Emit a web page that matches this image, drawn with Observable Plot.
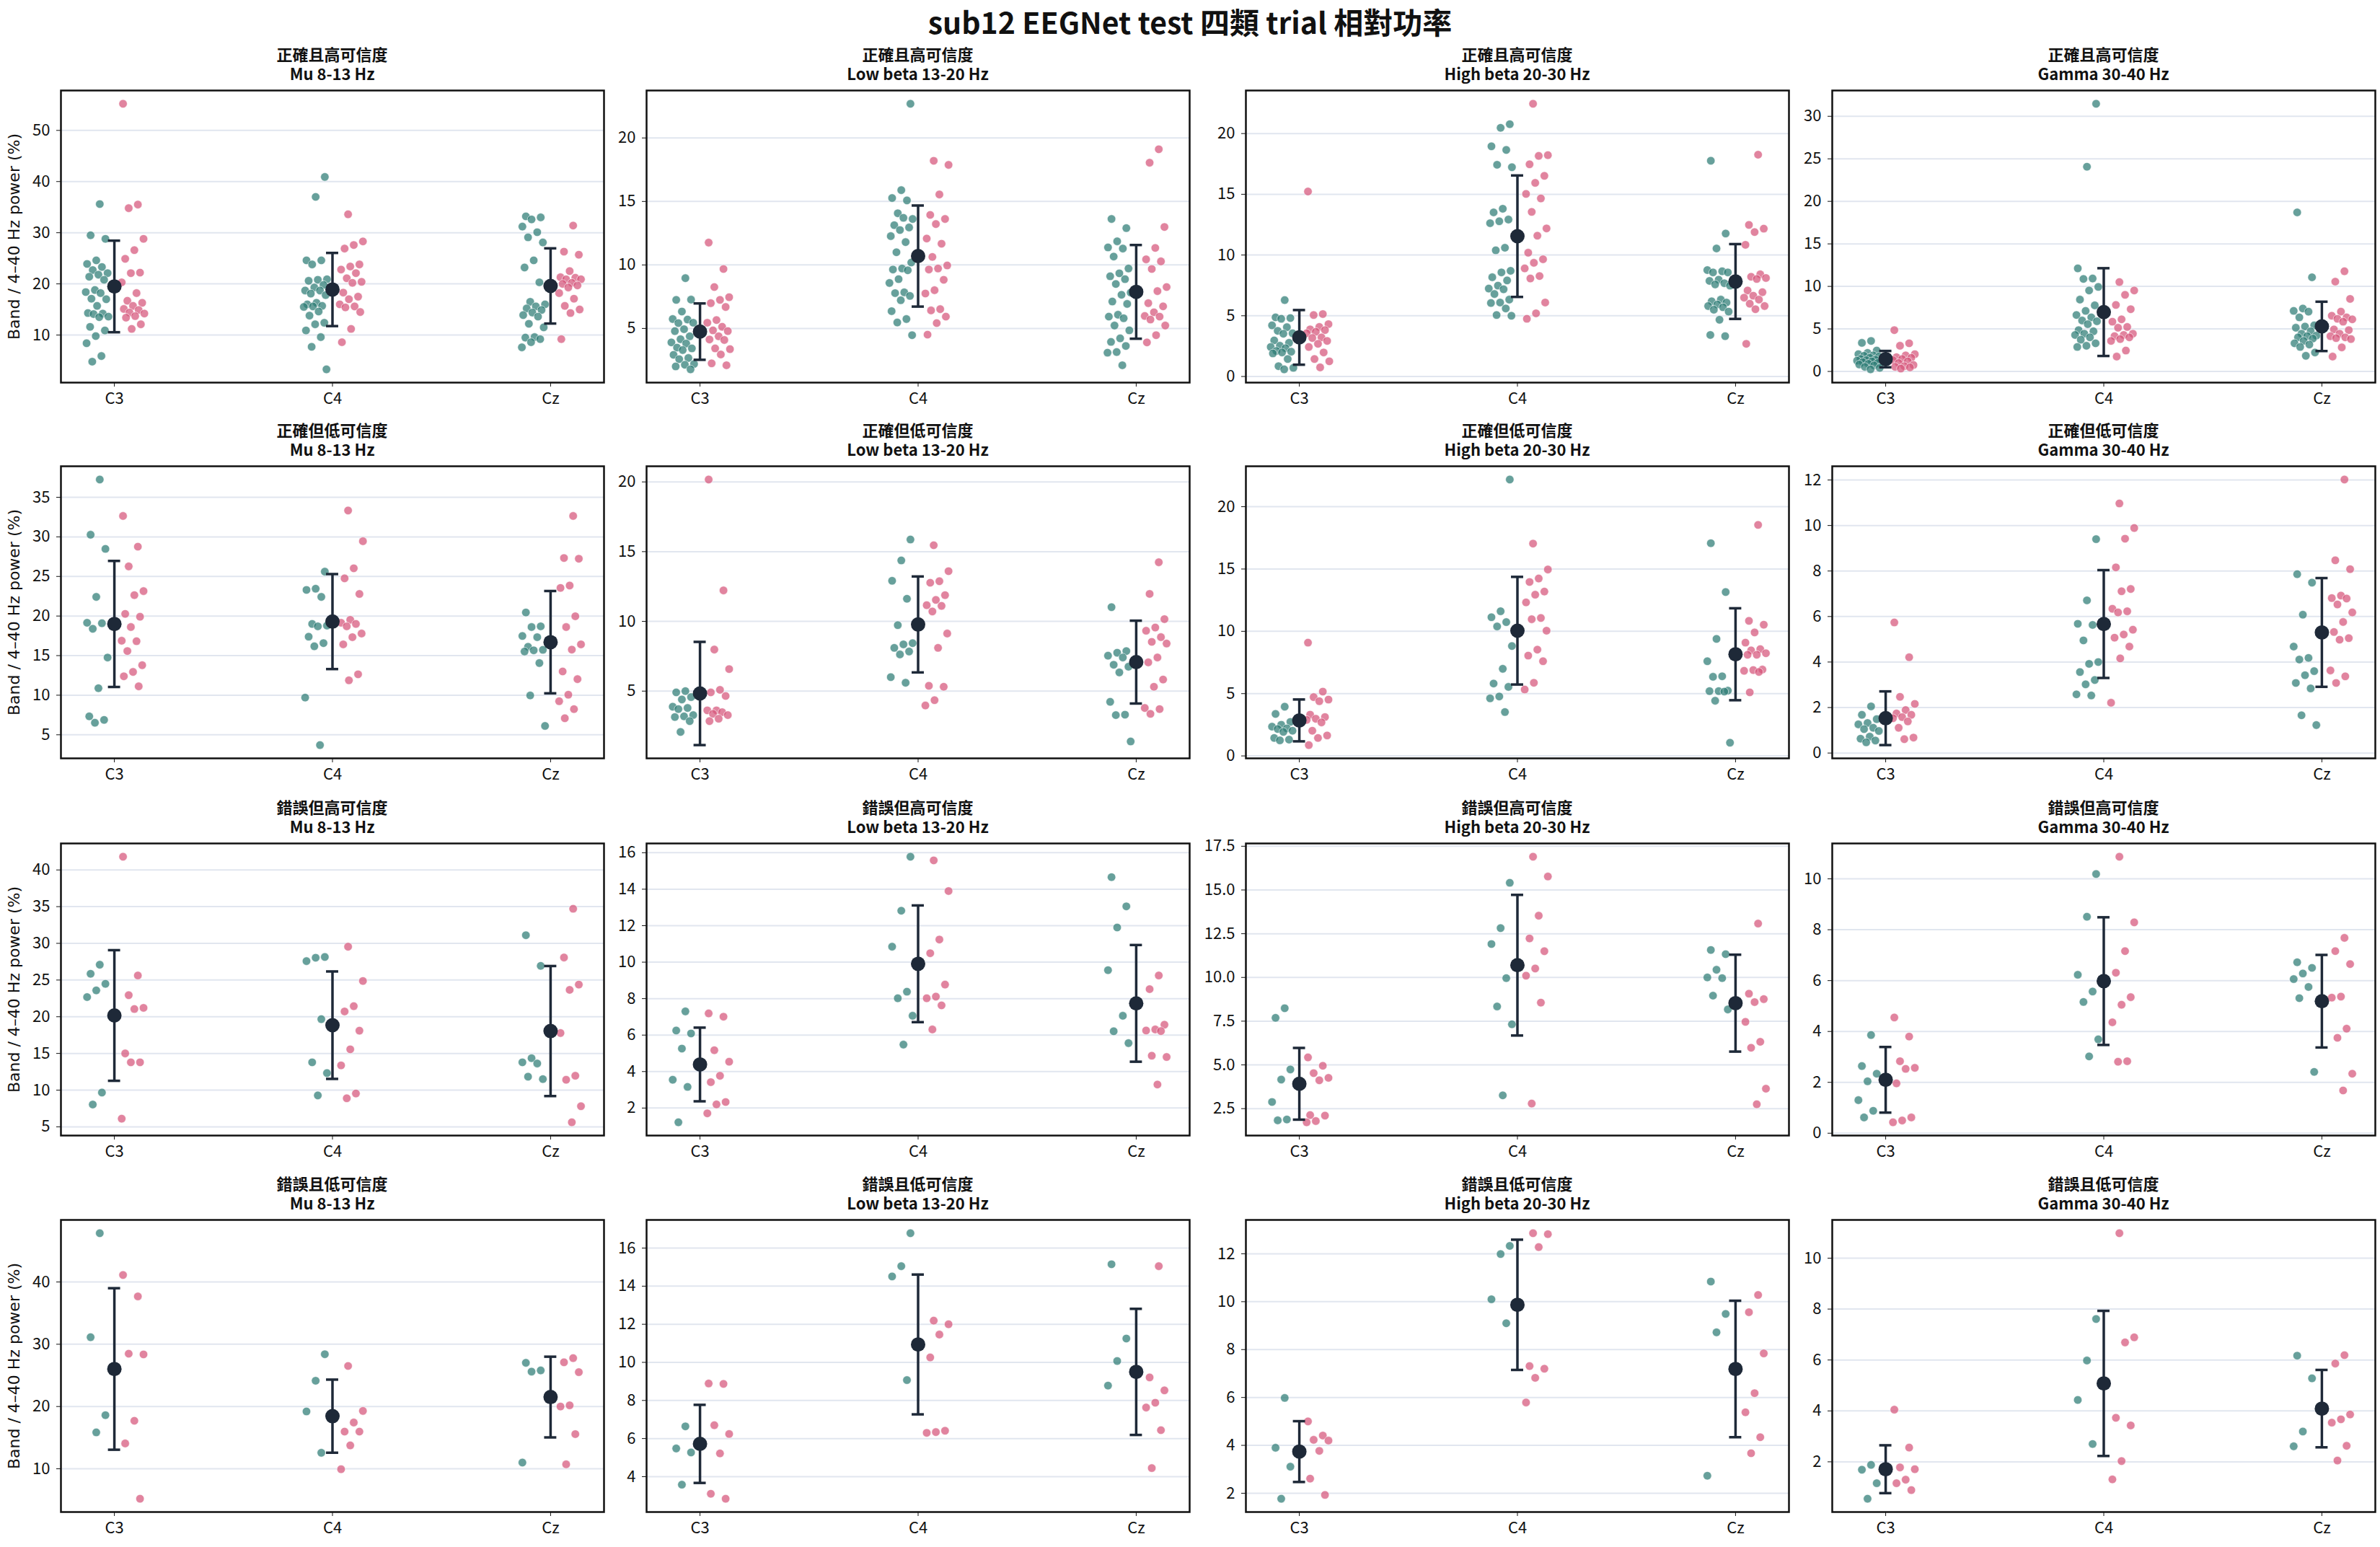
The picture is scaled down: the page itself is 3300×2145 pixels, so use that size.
<!DOCTYPE html>
<html><head><meta charset="utf-8">
<script src="https://cdn.jsdelivr.net/npm/d3@7"></script>
<script src="https://cdn.jsdelivr.net/npm/@observablehq/plot@0.6"></script>
<style>
body{margin:0;background:#fff;}
#root{position:relative;width:3300px;height:2145px;background:#fff;overflow:hidden;font-family:'Noto Sans CJK TC','Noto Sans',sans-serif;color:#111;}
.ptitle{position:absolute;text-align:center;font-size:22px;font-weight:700;line-height:27px;white-space:nowrap;}
.maintitle{position:absolute;left:0;top:5px;width:3300px;text-align:center;font-size:41px;font-weight:700;line-height:48px;}
.ylab{position:absolute;font-family:'DejaVu Sans',sans-serif;font-size:22px;white-space:nowrap;transform:translate(-50%,-50%) rotate(-90deg);color:#111;}
</style>
</head><body><div id="root"></div>
<script>
const mainTitle = "sub12 EEGNet test 四類 trial 相對功率";
const conditions = ["正確且高可信度","正確但低可信度","錯誤但高可信度","錯誤且低可信度"];
const bands = ["Mu 8-13 Hz","Low beta 13-20 Hz","High beta 20-30 Hz","Gamma 30-40 Hz"];
const channels = ["C3","C4","Cz"];
const yLabel = "Band / 4–40 Hz power (%)";

// ---- Row 1: 正確且高可信度 ----
const mu1Teal = [[35.6,29.5,28.8,24.6,23.9,23.3,22.7,22.1,21.8,21.4,20.8,18.8,18.4,18.2,17.1,17.0,15.7,14.3,14.2,14.1,13.6,13.5,11.6,10.9,9.8,8.4,5.9,4.8],
  [40.9,37.0,24.6,24.6,23.8,20.9,20.8,20.6,19.8,19.3,18.7,18.7,18.1,17.8,16.3,16.0,15.7,15.6,15.5,14.6,13.8,12.4,12.1,10.9,9.6,7.7,3.3],
  [33.2,33.0,32.6,31.2,30.1,29.1,28.1,24.6,23.2,20.3,16.5,16.0,15.6,15.2,14.9,14.4,13.9,13.6,12.2,11.5,9.6,9.5,9.2,8.6,7.6]];
const mu1Pink = [[55.2,35.5,34.8,28.8,26.6,24.9,22.2,22.1,20.3,18.2,16.7,16.3,15.7,15.1,14.9,14.4,14.2,13.7,13.4,12.1,11.2],
  [33.6,28.3,27.6,26.9,23.8,23.4,22.8,22.1,21.1,20.4,20.2,18.3,17.5,17.0,16.0,15.6,15.4,14.5,11.2,8.6],
  [31.4,26.3,25.7,22.5,21.3,21.2,20.9,20.9,20.2,20.0,19.7,19.3,18.2,17.1,15.7,15.0,14.3,9.2]];
const mu1Mean = [19.5,18.9,19.6];
const mu1Sd = [8.95,7.15,7.35];
const mu1Ticks = [10,20,30,40,50];

const lb1Teal = [[8.96,7.25,7.27,6.33,5.74,5.70,5.42,5.45,4.94,4.79,4.38,4.15,3.90,3.81,3.49,3.43,3.30,2.92,2.67,2.58,2.20,2.14,2.01,1.78],
  [22.69,15.89,15.27,15.08,14.07,13.62,13.71,13.13,12.95,12.75,12.27,11.80,11.0,10.19,9.72,9.64,9.58,8.88,8.58,7.84,7.78,7.56,7.22,6.36,5.74,5.47,4.47],
  [13.62,12.90,11.86,11.38,11.29,10.66,9.72,9.34,9.11,8.88,8.50,7.82,7.65,7.12,6.93,6.08,5.93,5.80,5.23,4.85,4.22,3.94,3.62,3.14,3.09,2.10]];
const lb1Pink = [[11.76,9.68,8.26,7.46,7.25,6.99,6.69,5.66,5.45,5.13,4.85,4.79,4.38,4.13,4.09,3.43,3.37,2.95,2.25,2.10],
  [18.2,17.88,15.55,13.94,13.62,13.22,12.08,11.67,10.63,9.96,9.72,9.64,8.83,8.01,7.75,6.52,6.42,5.93,5.42,4.51],
  [19.11,18.05,12.99,11.34,10.44,10.28,9.68,8.26,7.94,6.99,6.74,6.27,5.98,5.93,5.70,5.23,4.47,3.90]];
const lb1Mean = [4.75,10.7,7.88];
const lb1Sd = [2.22,3.98,3.69];
const lb1Ticks = [5,10,15,20];

const hb1Teal = [[6.29,4.87,4.81,4.75,4.21,4.06,3.76,3.56,3.52,2.97,2.77,2.53,2.43,2.33,2.10,2.04,1.98,1.90,1.44,0.85,0.71,0.59],
  [20.77,20.47,18.95,18.65,17.43,17.23,13.81,13.51,12.92,12.78,12.62,10.60,10.39,8.70,8.57,8.17,7.91,7.48,7.24,7.18,6.79,6.33,6.09,6.05,5.60,5.06,5.0],
  [17.76,11.77,10.54,8.76,8.66,8.57,8.57,7.97,7.87,7.68,7.58,7.48,6.33,6.19,6.09,5.93,5.80,5.70,5.50,5.34,4.67,3.42,3.32]];
const hb1Pink = [[15.23,5.14,5.06,4.31,4.08,3.88,3.82,3.68,3.56,3.22,3.17,2.93,2.69,2.43,1.98,1.44,1.25,0.75],
  [22.45,18.22,18.16,17.47,16.52,15.94,15.03,14.66,13.55,12.19,11.59,10.19,9.65,9.36,8.90,8.27,8.07,6.09,5.20,4.75],
  [18.26,12.48,12.17,11.89,10.84,8.41,8.21,8.11,8.03,7.08,6.94,6.65,6.49,6.33,5.99,5.80,5.54,2.69]];
const hb1Mean = [3.22,11.55,7.82];
const hb1Sd = [2.25,5.0,3.08];
const hb1Ticks = [0,5,10,15,20];

const ga1Teal = [[3.59,3.36,2.46,2.18,2.03,1.89,1.84,1.75,1.61,1.47,1.38,1.33,1.27,1.19,1.10,0.99,0.90,0.82,0.71,0.54,0.42,0.25],
  [31.47,24.07,12.12,10.93,10.88,9.94,9.52,8.45,7.77,7.12,6.64,6.36,5.99,5.90,5.56,4.86,4.72,4.44,4.29,4.01,3.73,3.31,3.02,2.88],
  [18.70,11.07,7.40,7.12,7.03,6.36,5.42,5.28,5.14,4.72,4.44,4.21,4.15,4.01,3.87,3.59,3.31,3.16,2.88,2.23,1.84]];
const ga1Pink = [[4.86,3.31,3.02,2.03,1.89,1.67,1.61,1.47,1.33,1.19,0.99,0.76,0.62,0.54,0.48,0.34],
  [10.51,9.52,9.01,7.82,7.32,6.13,5.85,5.23,5.14,4.44,4.29,4.15,4.01,3.81,3.59,2.46,1.75],
  [11.78,10.56,8.53,7.03,6.55,6.36,6.19,6.13,5.85,4.94,4.86,4.44,4.15,4.01,3.92,3.81,2.83,1.75]];
const ga1Mean = [1.45,6.98,5.3];
const ga1Sd = [0.96,5.16,2.90];
const ga1Ticks = [0,5,10,15,20,25,30];

// ---- Row 2: 正確但低可信度 ----
const mu2Teal = [[37.24,30.27,28.48,22.42,19.15,19.09,18.39,14.76,10.88,7.33,6.88,6.52],
  [25.61,23.45,23.30,22.42,19.0,18.79,18.70,17.39,16.58,16.18,9.70,3.70],
  [20.45,18.70,18.61,17.48,17.33,16.12,15.73,15.67,15.52,14.06,9.97,6.12]];
const mu2Pink = [[32.64,28.76,26.27,23.15,22.64,20.27,19.91,18.61,16.88,16.82,15.58,13.79,12.94,12.39,11.12],
  [33.33,29.45,26.03,24.76,22.79,19.52,19.15,19.0,18.70,17.79,17.33,16.42,12.64,11.88],
  [32.64,27.33,27.24,23.85,23.55,19.97,18.61,16.42,15.76,13.0,12.03,10.06,9.24,8.24,7.09]];
const mu2Mean = [19.0,19.3,16.7];
const mu2Sd = [7.96,6.0,6.46];
const mu2Ticks = [5,10,15,20,25,30,35];

const lb2Teal = [[5.0,4.91,4.57,4.40,3.88,3.79,3.71,3.28,3.19,3.14,2.85,2.07],
  [15.87,14.37,12.91,11.62,9.73,8.44,8.35,8.10,7.84,7.63,6.0,5.60],
  [11.02,7.87,7.75,7.54,7.41,6.89,6.75,6.34,4.23,3.31,3.28,1.39]];
const lb2Pink = [[20.17,12.22,7.98,6.58,5.09,4.91,4.65,3.62,3.62,3.49,3.37,3.28,3.02,2.85],
  [15.46,13.60,12.88,12.77,11.88,11.54,11.16,11.11,10.71,9.13,8.10,5.38,5.31,4.35,3.97],
  [14.24,11.97,10.16,9.56,9.33,8.87,8.53,8.41,7.41,7.06,5.83,5.31,3.79,3.71,3.37]];
const lb2Mean = [4.83,9.78,7.08];
const lb2Sd = [3.70,3.44,2.97];
const lb2Ticks = [5,10,15,20];

const hb2Teal = [[3.95,3.37,2.73,2.50,2.35,2.21,2.16,2.02,1.93,1.44,1.31,1.25],
  [22.18,11.61,11.13,10.74,10.39,8.82,6.99,5.81,5.54,4.77,4.62,3.52],
  [17.07,13.15,9.39,7.60,6.39,6.35,5.24,5.20,5.20,5.16,4.43,1.06]];
const hb2Pink = [[9.09,5.16,4.72,4.52,4.39,3.31,3.12,2.98,2.89,2.69,2.02,1.64,1.44,0.87],
  [17.04,14.96,14.24,13.96,13.19,12.94,12.32,11.07,10.97,10.05,8.53,8.05,7.60,5.87,5.33],
  [18.54,10.84,10.53,9.91,9.09,8.57,8.47,8.24,8.12,8.12,6.93,6.89,6.83,6.74,5.10]];
const hb2Mean = [2.85,10.05,8.16];
const hb2Sd = [1.68,4.32,3.69];
const hb2Ticks = [0,5,10,15,20];

const ga2Teal = [[2.05,1.68,1.49,1.32,1.26,1.11,1.05,0.97,0.72,0.63,0.55,0.47],
  [9.40,6.71,5.68,5.63,4.95,4.0,3.92,3.56,3.21,3.02,2.58,2.53],
  [7.86,7.49,6.08,4.68,4.18,4.11,3.60,3.42,3.08,2.84,1.66,1.23]];
const ga2Pink = [[5.74,4.21,2.47,2.16,1.89,1.74,1.68,1.58,1.53,1.39,1.11,0.68,0.61],
  [10.97,9.89,9.42,8.16,7.21,7.11,6.34,6.23,6.18,5.42,5.21,5.07,4.68,4.16,2.21],
  [12.02,8.47,8.08,6.92,6.81,6.79,6.53,6.18,5.76,5.32,5.05,4.98,3.63,3.37,3.08]];
const ga2Mean = [1.53,5.67,5.3];
const ga2Sd = [1.18,2.37,2.39];
const ga2Ticks = [0,2,4,6,8,10,12];

// ---- Row 3: 錯誤但高可信度 ----
const mu3Teal = [[27.09,25.85,24.48,23.59,22.68,9.67,8.04],
  [28.14,28.04,27.58,19.67,13.79,12.32,9.28],
  [31.11,26.93,14.35,13.79,13.63,11.83,11.50]];
const mu3Pink = [[41.80,25.62,22.94,21.21,21.05,15.0,13.79,13.79,6.11],
  [29.54,24.87,21.44,20.72,18.10,15.56,13.37,9.54,8.89],
  [34.71,28.07,24.38,23.66,17.78,11.96,11.41,7.81,5.62]];
const mu3Mean = [20.17,18.85,18.05];
const mu3Sd = [8.9,7.32,8.86];
const mu3Ticks = [5,10,15,20,25,30,35,40];

const lb3Teal = [[7.30,6.25,6.09,5.26,3.55,3.16,1.22],
  [15.78,12.82,10.85,8.38,8.02,7.06,5.48],
  [14.66,13.06,11.90,9.56,7.06,6.21,5.56]];
const lb3Pink = [[7.19,7.01,5.17,4.54,3.77,3.42,2.33,2.20,1.71],
  [15.58,13.90,11.24,10.49,8.77,8.11,8.02,7.63,6.31],
  [9.27,8.52,6.57,6.31,6.25,6.22,4.87,4.80,3.29]];
const lb3Mean = [4.39,9.91,7.74];
const lb3Sd = [2.02,3.2,3.2];
const lb3Ticks = [2,4,6,8,10,12,14,16];

const hb3Teal = [[8.24,7.69,4.74,4.16,2.88,1.88,1.83],
  [15.41,12.82,11.91,9.96,8.34,7.32,3.26],
  [11.57,11.33,10.44,10.0,9.96,8.96,8.17]];
const hb3Pink = [[5.43,4.95,4.53,4.26,4.12,2.13,2.10,1.79,1.72],
  [16.90,15.77,13.53,12.23,11.50,10.51,10.10,8.56,2.79],
  [13.08,9.07,8.76,8.59,7.46,6.32,5.98,3.64,2.75]];
const hb3Mean = [3.92,10.7,8.53];
const hb3Sd = [2.05,4.02,2.77];
const hb3Ticks = [2.5,5,7.5,10,12.5,15,17.5];

const ga3Teal = [[3.86,2.64,2.34,2.04,1.30,0.88,0.62],
  [10.19,8.51,6.23,5.57,5.16,3.69,3.02],
  [6.72,6.50,6.28,6.06,5.75,5.31,2.41]];
const ga3Pink = [[4.55,3.80,2.83,2.57,2.53,1.96,0.62,0.50,0.43],
  [10.87,8.29,7.16,6.31,5.35,5.05,4.36,2.83,2.81],
  [7.68,7.16,6.65,5.37,5.33,4.11,3.75,2.34,1.68]];
const ga3Mean = [2.10,5.98,5.19];
const ga3Sd = [1.29,2.51,1.82];
const ga3Ticks = [0,2,4,6,8,10];

// ---- Row 4: 錯誤且低可信度 ----
const mu4Teal = [[47.83,31.13,18.61,15.85],[28.40,24.14,19.21,12.57],[27.02,25.80,25.60,11.0]];
const mu4Pink = [[41.12,37.68,28.48,28.37,17.71,14.07,5.19],
  [26.51,19.29,17.43,15.97,15.97,13.76,9.93],
  [27.77,27.10,25.52,20.19,20.0,15.57,10.72]];
const mu4Mean = [26.03,18.45,21.52];
const mu4Sd = [12.97,5.87,6.48];
const mu4Ticks = [10,20,30,40,50];

const lb4Teal = [[6.64,5.48,5.27,3.58],[16.78,15.05,14.51,9.07],[15.15,11.25,10.07,8.78]];
const lb4Pink = [[8.89,8.87,6.70,6.24,5.22,3.10,2.84],
  [12.19,12.0,11.46,10.26,6.41,6.34,6.30],
  [15.05,9.21,8.53,7.88,7.63,6.44,4.45]];
const lb4Mean = [5.72,10.94,9.5];
const lb4Sd = [2.05,3.67,3.31];
const lb4Ticks = [4,6,8,10,12,14,16];

const hb4Teal = [[5.98,3.90,3.11,1.77],[12.33,11.99,10.10,9.10],[10.84,9.49,8.72,2.73]];
const hb4Pink = [[5.0,4.41,4.23,4.20,3.77,2.61,1.93],
  [12.86,12.82,12.28,7.31,7.20,6.82,5.79],
  [10.28,9.56,7.84,6.18,5.38,4.34,3.67]];
const hb4Mean = [3.74,9.87,7.19];
const hb4Sd = [1.27,2.72,2.85];
const hb4Ticks = [2,4,6,8,10,12];

const ga4Teal = [[1.88,1.69,1.16,0.55],[7.61,5.98,4.43,2.70],[6.17,5.28,3.19,2.61]];
const ga4Pink = [[4.05,2.56,1.78,1.71,1.30,1.16,0.89],
  [10.98,6.89,6.69,3.73,3.43,2.03,1.31],
  [6.19,5.86,3.86,3.67,3.54,2.63,2.05]];
const ga4Mean = [1.71,5.08,4.09];
const ga4Sd = [0.94,2.85,1.52];
const ga4Ticks = [2,4,6,8,10];

const panelData = [
  [[mu1Teal,mu1Pink,mu1Mean,mu1Sd,mu1Ticks],[lb1Teal,lb1Pink,lb1Mean,lb1Sd,lb1Ticks],[hb1Teal,hb1Pink,hb1Mean,hb1Sd,hb1Ticks],[ga1Teal,ga1Pink,ga1Mean,ga1Sd,ga1Ticks]],
  [[mu2Teal,mu2Pink,mu2Mean,mu2Sd,mu2Ticks],[lb2Teal,lb2Pink,lb2Mean,lb2Sd,lb2Ticks],[hb2Teal,hb2Pink,hb2Mean,hb2Sd,hb2Ticks],[ga2Teal,ga2Pink,ga2Mean,ga2Sd,ga2Ticks]],
  [[mu3Teal,mu3Pink,mu3Mean,mu3Sd,mu3Ticks],[lb3Teal,lb3Pink,lb3Mean,lb3Sd,lb3Ticks],[hb3Teal,hb3Pink,hb3Mean,hb3Sd,hb3Ticks],[ga3Teal,ga3Pink,ga3Mean,ga3Sd,ga3Ticks]],
  [[mu4Teal,mu4Pink,mu4Mean,mu4Sd,mu4Ticks],[lb4Teal,lb4Pink,lb4Mean,lb4Sd,lb4Ticks],[hb4Teal,hb4Pink,hb4Mean,hb4Sd,hb4Ticks],[ga4Teal,ga4Pink,ga4Mean,ga4Sd,ga4Ticks]]
];

// ---- layout / style ----
const frameLefts = [84, 896, 1727, 2540];
const frameTops = [125, 646, 1169, 1691];
const FW = 753, FH = 405;
const ML = 72, MR = 12, MT = 12, MB = 50;
const tealColor = "#2c7c75", pinkColor = "#d5557a", darkColor = "#1e2938";

const root = document.getElementById("root");
const mt = document.createElement("div");
mt.className = "maintitle"; mt.textContent = mainTitle; root.appendChild(mt);

function jitter(d) {
  const base = d.g === 0 ? -0.08 : 0.085;
  const f = ((d.i + 1) * 0.6180339887 + d.ci * 0.29 + d.g * 0.47) % 1;
  return d.ci + base + (f - 0.5) * 0.11;
}

for (let r = 0; r < 4; r++) {
  for (let c = 0; c < 4; c++) {
    const [teal, pink, means, sds, ticks] = panelData[r][c];
    const pts = [];
    teal.forEach((arr, ci) => arr.forEach((v, i) => pts.push({g: 0, ci, i, v})));
    pink.forEach((arr, ci) => arr.forEach((v, i) => pts.push({g: 1, ci, i, v})));
    const stats = means.map((m, ci) => ({ci, m, lo: m - sds[ci], hi: m + sds[ci]}));
    const all = pts.map(d => d.v).concat(stats.flatMap(s => [s.lo, s.hi]));
    const mn = d3.min(all), mx = d3.max(all), pad = (mx - mn) * 0.05;
    const domain = [mn - pad, mx + pad];
    const tk = ticks.filter(t => t >= domain[0] && t <= domain[1]);
    const fmt = ticks.some(t => !Number.isInteger(t)) ? d3.format(".1f") : d3.format("d");
    const chart = Plot.plot({
      width: FW + ML + MR, height: FH + MT + MB,
      marginLeft: ML, marginRight: MR, marginTop: MT, marginBottom: MB,
      style: {fontFamily: "'Noto Sans CJK TC','Noto Sans',sans-serif", fontSize: "22px", color: "#111", background: "transparent", overflow: "visible"},
      x: {domain: [-0.245, 2.245], ticks: [0, 1, 2], tickFormat: i => channels[i], tickSize: 6, tickPadding: 8, label: null},
      y: {domain, ticks: tk, tickFormat: fmt, tickSize: 6, tickPadding: 9, label: null},
      marks: [
        Plot.ruleY(tk, {stroke: "#e1e6ef", strokeWidth: 2}),
        Plot.dot(pts.filter(d => d.g === 0), {x: jitter, y: "v", r: 5.8, fill: tealColor, fillOpacity: 0.72, stroke: "#ffffff", strokeWidth: 0.8, strokeOpacity: 0.75}),
        Plot.dot(pts.filter(d => d.g === 1), {x: jitter, y: "v", r: 5.8, fill: pinkColor, fillOpacity: 0.72, stroke: "#ffffff", strokeWidth: 0.8, strokeOpacity: 0.75}),
        Plot.ruleX(stats, {x: "ci", y1: "lo", y2: "hi", stroke: darkColor, strokeWidth: 3.5}),
        Plot.ruleY(stats, {y: "hi", x1: d => d.ci - 0.028, x2: d => d.ci + 0.028, stroke: darkColor, strokeWidth: 3.5}),
        Plot.ruleY(stats, {y: "lo", x1: d => d.ci - 0.028, x2: d => d.ci + 0.028, stroke: darkColor, strokeWidth: 3.5}),
        Plot.dot(stats, {x: "ci", y: "m", r: 10, fill: darkColor}),
        Plot.frame({stroke: "#111", strokeWidth: 2.5})
      ]
    });
    chart.style.position = "absolute";
    chart.style.left = (frameLefts[c] - ML) + "px";
    chart.style.top = (frameTops[r] - MT) + "px";
    root.appendChild(chart);

    const t = document.createElement("div");
    t.className = "ptitle";
    t.style.left = frameLefts[c] + "px";
    t.style.width = FW + "px";
    t.style.top = (frameTops[r] - 64) + "px";
    t.innerHTML = conditions[r] + "<br>" + bands[c];
    root.appendChild(t);
  }
  const yl = document.createElement("div");
  yl.className = "ylab";
  yl.textContent = yLabel;
  yl.style.left = "19px";
  yl.style.top = (frameTops[r] + FH / 2) + "px";
  root.appendChild(yl);
}
</script>
</body></html>
